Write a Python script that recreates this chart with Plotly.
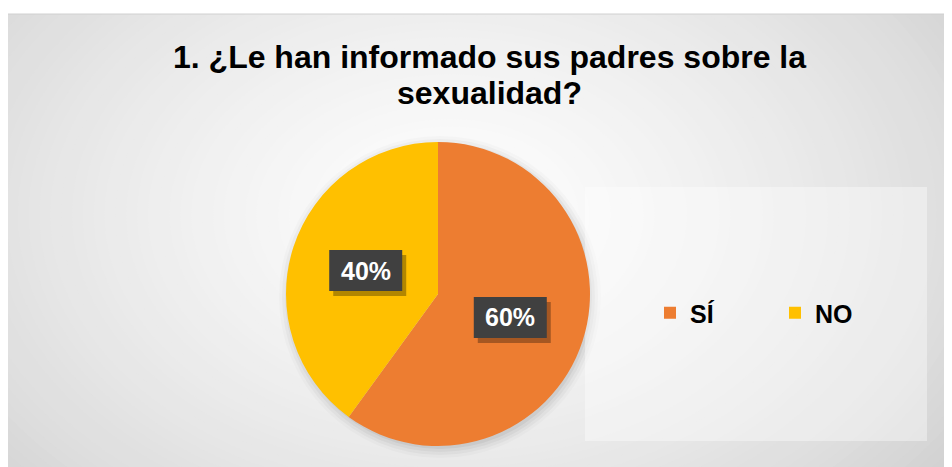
import numpy as np
import plotly.graph_objects as go

labels = ["SÍ", "NO"]
values = [60, 40]
colors = ["#ED7D31", "#FFC000"]
title_lines = ["1. ¿Le han informado sus padres sobre la", "sexualidad?"]

W, H = 952, 467
OFF = 8  # page body margin


def px_x(x):
    return (x - OFF) / W


def px_y(y):
    return 1 - (y - OFF) / H


def main():
    fig = go.Figure()

    # pie placement (screen pixels)
    cx, cy, r = 438, 294, 152
    fig.add_trace(go.Pie(labels=labels, values=values, sort=False,
                         direction="clockwise", rotation=0,
                         marker=dict(colors=colors, line=dict(width=0)),
                         textinfo="none", hoverinfo="label+percent",
                         domain=dict(x=[px_x(cx - r), px_x(cx + r)],
                                     y=[px_y(cy + r), px_y(cy - r)])))

    shapes = []
    # radial gradient background
    shapes.append(dict(type="rect", xref="paper", yref="paper", layer="below",
                       x0=-0.1, x1=1.1, y0=-0.1, y1=1.1,
                       fillcolor="#c8c8c8", line=dict(width=0)))
    gx, gy = 450, 215
    n = 60
    for k in range(n):
        t = k / (n - 1)
        rx = 640 * (1 - t) + 20
        ry = 440 * (1 - t) + 14
        g = int(round(200 + (255 - 200) * (t ** 0.65)))
        shapes.append(dict(type="circle", xref="paper", yref="paper", layer="below",
                           x0=px_x(gx - rx), x1=px_x(gx + rx),
                           y0=px_y(gy + ry), y1=px_y(gy - ry),
                           fillcolor="rgb(%d,%d,%d)" % (g, g, g), line=dict(width=0)))
    # white strip above the chart area
    shapes.append(dict(type="rect", xref="paper", yref="paper", layer="below",
                       x0=-0.1, x1=1.1, y0=px_y(14), y1=1.1,
                       fillcolor="white", line=dict(width=0)))
    shapes.append(dict(type="line", xref="paper", yref="paper", layer="below",
                       x0=0, x1=1.1, y0=px_y(14), y1=px_y(14),
                       line=dict(color="#d0d0d0", width=1)))
    # soft shadow around the pie
    for k, a in enumerate([0.02, 0.03, 0.04, 0.05]):
        rr = r + 9 - k * 3
        shapes.append(dict(type="circle", xref="paper", yref="paper", layer="below",
                           x0=px_x(cx - rr + 2), x1=px_x(cx + rr + 2),
                           y0=px_y(cy + rr + 3), y1=px_y(cy - rr + 3),
                           fillcolor="rgba(0,0,0,%.2f)" % a, line=dict(width=0)))
    # legend panel
    shapes.append(dict(type="rect", xref="paper", yref="paper", layer="below",
                       x0=px_x(585), x1=px_x(927), y0=px_y(441), y1=px_y(187),
                       fillcolor="rgba(255,255,255,0.38)", line=dict(width=0)))

    # data labels placed along each slice's mid-angle
    annotations = []
    total = sum(values)
    start = 0
    bw, bh = 73, 41
    for v in values:
        mid = (start + v / 2) / total * 2 * np.pi
        start += v
        lx = cx + 0.5 * r * np.sin(mid)
        ly = cy - 0.5 * r * np.cos(mid)
        txt = "%d%%" % round(v / total * 100)
        shapes.append(dict(type="rect", xref="paper", yref="paper", layer="above",
                           x0=px_x(lx - bw / 2 + 4), x1=px_x(lx + bw / 2 + 4),
                           y0=px_y(ly + bh / 2 + 5), y1=px_y(ly - bh / 2 + 5),
                           fillcolor="rgba(0,0,0,0.3)", line=dict(width=0)))
        shapes.append(dict(type="rect", xref="paper", yref="paper", layer="above",
                           x0=px_x(lx - bw / 2), x1=px_x(lx + bw / 2),
                           y0=px_y(ly + bh / 2), y1=px_y(ly - bh / 2),
                           fillcolor="#404040", line=dict(width=0)))
        annotations.append(dict(x=px_x(lx), y=px_y(ly), xref="paper", yref="paper",
                                text="<b>%s</b>" % txt, showarrow=False,
                                font=dict(family="Arial", size=25, color="white")))

    # title, two lines
    for i, line in enumerate(title_lines):
        annotations.append(dict(x=px_x(489), y=px_y(57 + 36 * i), xref="paper", yref="paper",
                                xanchor="center", yanchor="middle", showarrow=False,
                                text="<b>%s</b>" % line,
                                font=dict(family="Arial", size=32, color="black")))

    fig.update_layout(
        width=W, height=H,
        margin=dict(l=0, r=0, t=0, b=0),
        paper_bgcolor="white",
        showlegend=True,
        legend=dict(orientation="h", x=px_x(650), xanchor="left",
                    y=px_y(313), yanchor="middle", bgcolor="rgba(0,0,0,0)",
                    font=dict(family="Arial", size=25, color="black", weight="bold"),
                    entrywidth=80),
        shapes=shapes,
        annotations=annotations,
    )
    fig.write_html("out.html")


main()
